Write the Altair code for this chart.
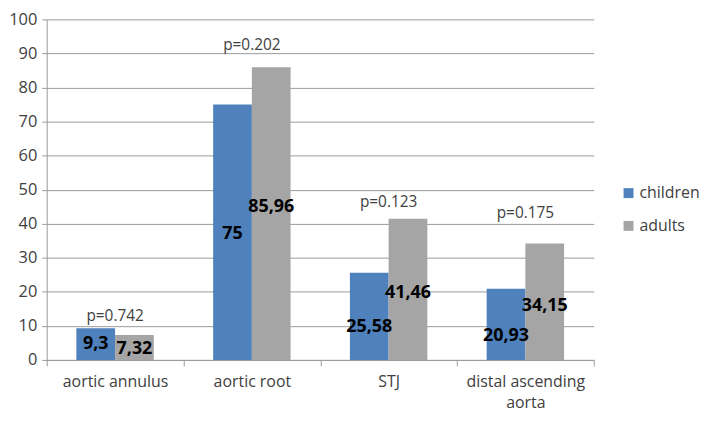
import altair as alt
import pandas as pd

categories = ["aortic annulus", "aortic root", "STJ", "distal ascending aorta"]
series = ["children", "adults"]
children = [9.3, 75, 25.58, 20.93]
adults = [7.32, 85.96, 41.46, 34.15]
children_labels = ["9,3", "75", "25,58", "20,93"]
adults_labels = ["7,32", "85,96", "41,46", "34,15"]
# where the value labels sit (in axis units)
children_label_at = [4.7, 37, 9.7, 7.0]
adults_label_at = [3.3, 45, 19.5, 15.9]
p_values = ["p=0.742", "p=0.202", "p=0.123", "p=0.175"]
p_at = [13, 92.5, 46.5, 43]
y_ticks = [0, 10, 20, 30, 40, 50, 60, 70, 80, 90, 100]
colors = ["#4F81BD", "#A5A5A5"]

rows = []
for i, c in enumerate(categories):
    rows.append({"category": c, "series": "children", "value": children[i],
                 "label": children_labels[i], "label_at": children_label_at[i]})
    rows.append({"category": c, "series": "adults", "value": adults[i],
                 "label": adults_labels[i], "label_at": adults_label_at[i]})
df = pd.DataFrame(rows)
pdf = pd.DataFrame({"category": categories, "p": p_values, "p_at": p_at})

FONT = "Open Sans"
TXT = "#404040"
GRID = "#9A9A9A"

x_enc = alt.X(
    "category:N", sort=categories, title=None,
    scale=alt.Scale(paddingInner=0, paddingOuter=0),
    axis=alt.Axis(
        labelAngle=0, labelFontSize=16, labelColor=TXT, labelFont=FONT,
        tickBand="extent", tickSize=6, tickColor=GRID, domainColor=GRID,
        labelPadding=8, labelLineHeight=21,
        labelExpr="datum.label == 'distal ascending aorta' ? ['distal ascending', 'aorta'] : datum.label",
    ),
)
xo_enc = alt.XOffset("series:N", sort=series,
                     scale=alt.Scale(paddingInner=0, paddingOuter=0.766))
y_axis = alt.Axis(
    values=y_ticks, labelFontSize=16.5, labelColor=TXT, labelOverlap=False,
    labelFont=FONT, gridColor=GRID, domainColor=GRID, tickColor=GRID,
    tickSize=5, labelPadding=5, minExtent=39, maxExtent=39,
)
y_scale = alt.Scale(domain=[0, 100], nice=False)

bars = alt.Chart(df).mark_bar().encode(
    x=x_enc,
    xOffset=xo_enc,
    y=alt.Y("value:Q", title=None, scale=y_scale, axis=y_axis),
    color=alt.Color(
        "series:N", sort=series,
        scale=alt.Scale(domain=series, range=colors),
        legend=alt.Legend(
            title=None, orient="none", legendX=578, legendY=167,
            symbolType="square", symbolSize=100, symbolStrokeWidth=0,
            labelFontSize=16, labelFont=FONT, labelColor=TXT,
            rowPadding=17, labelOffset=3,
        ),
    ),
)

labels = alt.Chart(df).mark_text(
    fontWeight="bold", fontSize=18, color="black", font=FONT
).encode(
    x=alt.X("category:N", sort=categories),
    xOffset=alt.XOffset("series:N", sort=series),
    y=alt.Y("label_at:Q", title=None, scale=y_scale, axis=y_axis),
    text="label:N",
)

ptext = alt.Chart(pdf).mark_text(fontSize=15.5, color=TXT, font=FONT).encode(
    x=alt.X("category:N", sort=categories),
    y=alt.Y("p_at:Q", title=None, scale=y_scale, axis=y_axis),
    text="p:N",
)

chart = alt.layer(bars, labels, ptext).properties(
    width=551, height=343,
    padding={"left": 0, "top": 2, "right": 0, "bottom": 0},
).configure_view(stroke=None)

chart.save("out.html", embed_options={"renderer": "svg", "actions": False})
